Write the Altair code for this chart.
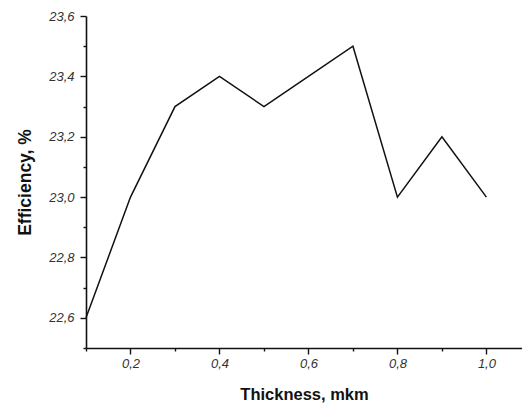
import altair as alt
import pandas as pd

thickness = [0.1, 0.2, 0.3, 0.4, 0.5, 0.6, 0.7, 0.8, 0.9, 1.0]
efficiency = [22.6, 23.0, 23.3, 23.4, 23.3, 23.4, 23.5, 23.0, 23.2, 23.0]
x_ticks = [0.1, 0.2, 0.3, 0.4, 0.5, 0.6, 0.7, 0.8, 0.9, 1.0]
y_ticks = [22.5, 22.6, 22.7, 22.8, 22.9, 23.0, 23.1, 23.2, 23.3, 23.4, 23.5, 23.6]

df = pd.DataFrame({"t": thickness, "e": efficiency})

label_expr = "round(datum.value*10) % 2 == 0 ? replace(format(datum.value, '.1f'), '.', ',') : ''"
tick_cond = {"condition": {"test": "round(datum.value*10) % 2 == 1", "value": 3}, "value": 6}

common = dict(
    grid=False, domainColor="#111", domainWidth=1.6, tickColor="#111", tickWidth=1.4,
    labelFont="Liberation Sans", labelFontStyle="italic", labelFontSize=13, labelColor="#333",
    titleFont="Liberation Sans", titleFontWeight="bold", titleColor="#111",
    labelExpr=label_expr, tickSize=tick_cond,
)

chart = alt.Chart(df).mark_line(color="#111", strokeWidth=1.5).encode(
    x=alt.X("t:Q", scale=alt.Scale(domain=[0.1, 1.08], nice=False, zero=False),
            axis=alt.Axis(title="Thickness, mkm", values=x_ticks, labelPadding=3,
                          titlePadding=16, titleFontSize=16.5, **common)),
    y=alt.Y("e:Q", scale=alt.Scale(domain=[22.5, 23.6], nice=False, zero=False),
            axis=alt.Axis(title="Efficiency, %", values=y_ticks, labelPadding=6,
                          titlePadding=14, titleFontSize=17.5, **common)),
).properties(
    width=436, height=332, autosize="none",
    padding={"left": 78, "top": 8, "right": 0, "bottom": 60},
    background="white",
).configure_view(stroke=None)

chart.save("out.html", embed_options={"renderer": "svg", "actions": False})
